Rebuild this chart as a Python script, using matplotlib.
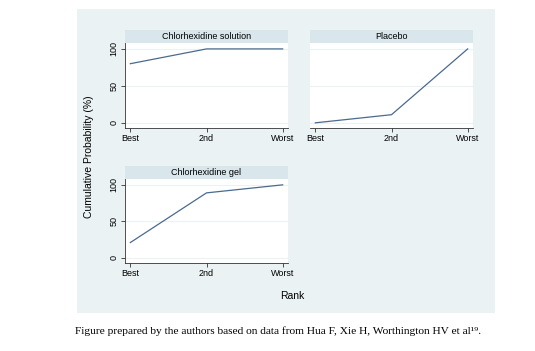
import matplotlib
matplotlib.use("Agg")
import matplotlib.pyplot as plt
from matplotlib.patches import Rectangle

ranks = ["Best", "2nd", "Worst"]
titles = ["Chlorhexidine solution", "Placebo", "Chlorhexidine gel"]
solution = [80, 100, 100]
placebo = [0, 11, 100]
gel = [21, 89, 100]
series = [solution, placebo, gel]
yticks = [0, 50, 100]

plt.rcParams['font.family'] = ['Liberation Sans', 'DejaVu Sans']

W, H = 535, 351
fig = plt.figure(figsize=(W / 100, H / 100), dpi=100)
fig.patch.set_facecolor('white')

BG = '#EAF2F3'
STRIP = '#D9E6EB'
LINE = '#4A6A8E'

# outer panel background
fig.patches.append(Rectangle((77 / W, 1 - 313 / H), (495 - 77) / W, (313 - 9) / H,
                             transform=fig.transFigure, facecolor=BG, edgecolor='none', zorder=-10))

def ax_rect(x0, y0, x1, y1):
    return [x0 / W, 1 - y1 / H, (x1 - x0) / W, (y1 - y0) / H]

rects = [ax_rect(125, 43, 288, 128), ax_rect(310, 43, 473, 128), ax_rect(125, 179, 288, 263)]
show_y = [True, False, True]

for rect, title, vals, sy in zip(rects, titles, series, show_y):
    ax = fig.add_axes(rect)
    ax.set_facecolor('white')
    x = list(range(len(ranks)))
    ax.plot(x, vals, color=LINE, lw=0.9)
    ax.set_xlim(-0.07, 2.07)
    ax.set_ylim(-7, 108)
    ax.set_xticks(x)
    ax.set_xticklabels(ranks, fontsize=6.5)
    ax.set_yticks(yticks)
    for yv in yticks:
        ax.axhline(yv, color=BG, lw=0.8, zorder=0)
    ax.tick_params(axis='both', length=3, width=0.6, color='#333333', pad=1.5)
    if sy:
        ax.set_yticklabels([str(v) for v in yticks], fontsize=6.5, rotation=90, va='center')
    else:
        ax.set_yticklabels([])
        ax.tick_params(axis='y', length=0)
    for s in ['top', 'right']:
        ax.spines[s].set_visible(False)
    for s in ['left', 'bottom']:
        ax.spines[s].set_color('#333333')
        ax.spines[s].set_linewidth(0.6)
    if not sy:
        ax.spines['left'].set_visible(False)
    # strip title
    x0, y0, w, h = rect
    sh = 13 / H
    fig.patches.append(Rectangle((x0, y0 + h), w, sh, transform=fig.transFigure,
                                 facecolor=STRIP, edgecolor='none', zorder=1))
    fig.text(x0 + w / 2, y0 + h + sh / 2, title, ha='center', va='center', fontsize=6.5)

fig.text(292 / W, 1 - 296 / H, "Rank", ha='center', va='center', fontsize=7.5)
fig.text(89 / W, 1 - 157 / H, "Cumulative Probability (%)", ha='center', va='center',
         rotation=90, fontsize=7.5)

fig.text(278 / W, 1 - 331 / H,
         "Figure prepared by the authors based on data from Hua F, Xie H, Worthington HV et al\u00b9\u2079.",
         ha='center', va='center', fontsize=8.2, family=['Liberation Serif', 'DejaVu Serif'])

fig.savefig("out.png", dpi=100, facecolor='white')
